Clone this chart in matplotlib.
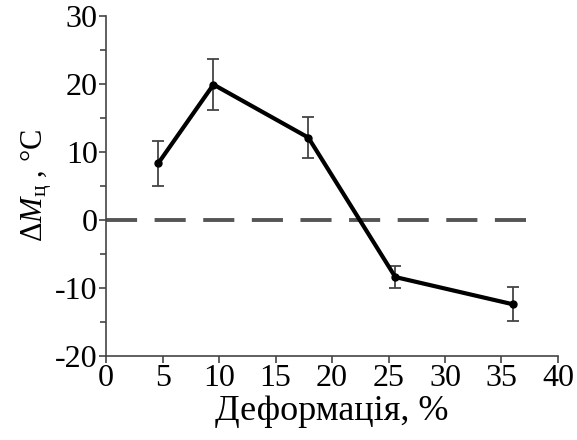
import matplotlib
matplotlib.use('Agg')
from matplotlib import pyplot as plt
from matplotlib.ticker import MultipleLocator

# data
deform = [4.6, 9.5, 17.9, 25.6, 36.0]
dM = [8.3, 19.9, 12.1, -8.4, -12.4]
err = [3.3, 3.8, 3.0, 1.6, 2.5]

plt.rcParams['font.family'] = ['Liberation Serif', 'DejaVu Serif']
plt.rcParams['mathtext.fontset'] = 'custom'
plt.rcParams['mathtext.rm'] = 'Liberation Serif'
plt.rcParams['mathtext.it'] = 'Liberation Serif:italic'
plt.rcParams['axes.unicode_minus'] = False

fig = plt.figure(figsize=(5.77, 4.4), dpi=100)
ax = fig.add_axes([0.184, 0.191, 0.783, 0.773])

ax.plot([0, 38.2], [0, 0], color='#555555', lw=2.8, dashes=(8, 4.5))
ax.errorbar(deform, dM, yerr=err, color='black', lw=3, marker='o', ms=5,
            ecolor='#444444', elinewidth=1.3, capsize=4, capthick=1.3)

ax.set_xlim(0, 40)
ax.set_ylim(-20, 30)
ax.xaxis.set_major_locator(MultipleLocator(5))
ax.yaxis.set_major_locator(MultipleLocator(10))
ax.yaxis.set_minor_locator(MultipleLocator(5))
ax.spines['top'].set_visible(False)
ax.spines['right'].set_visible(False)
for s in ['left', 'bottom']:
    ax.spines[s].set_color('#444444')
    ax.spines[s].set_linewidth(1.2)
ax.tick_params(which='both', direction='out', color='#444444', width=1.2, labelsize=23, pad=1)
ax.tick_params(which='major', length=5)
ax.tick_params(which='minor', length=4)

ax.set_xlabel('Деформація, %', fontsize=26, labelpad=1)
ax.set_ylabel(r'$\Delta M_{\mathrm{ц}}$ , °C', fontsize=22, labelpad=0)

fig.savefig('out.png', dpi=100)
